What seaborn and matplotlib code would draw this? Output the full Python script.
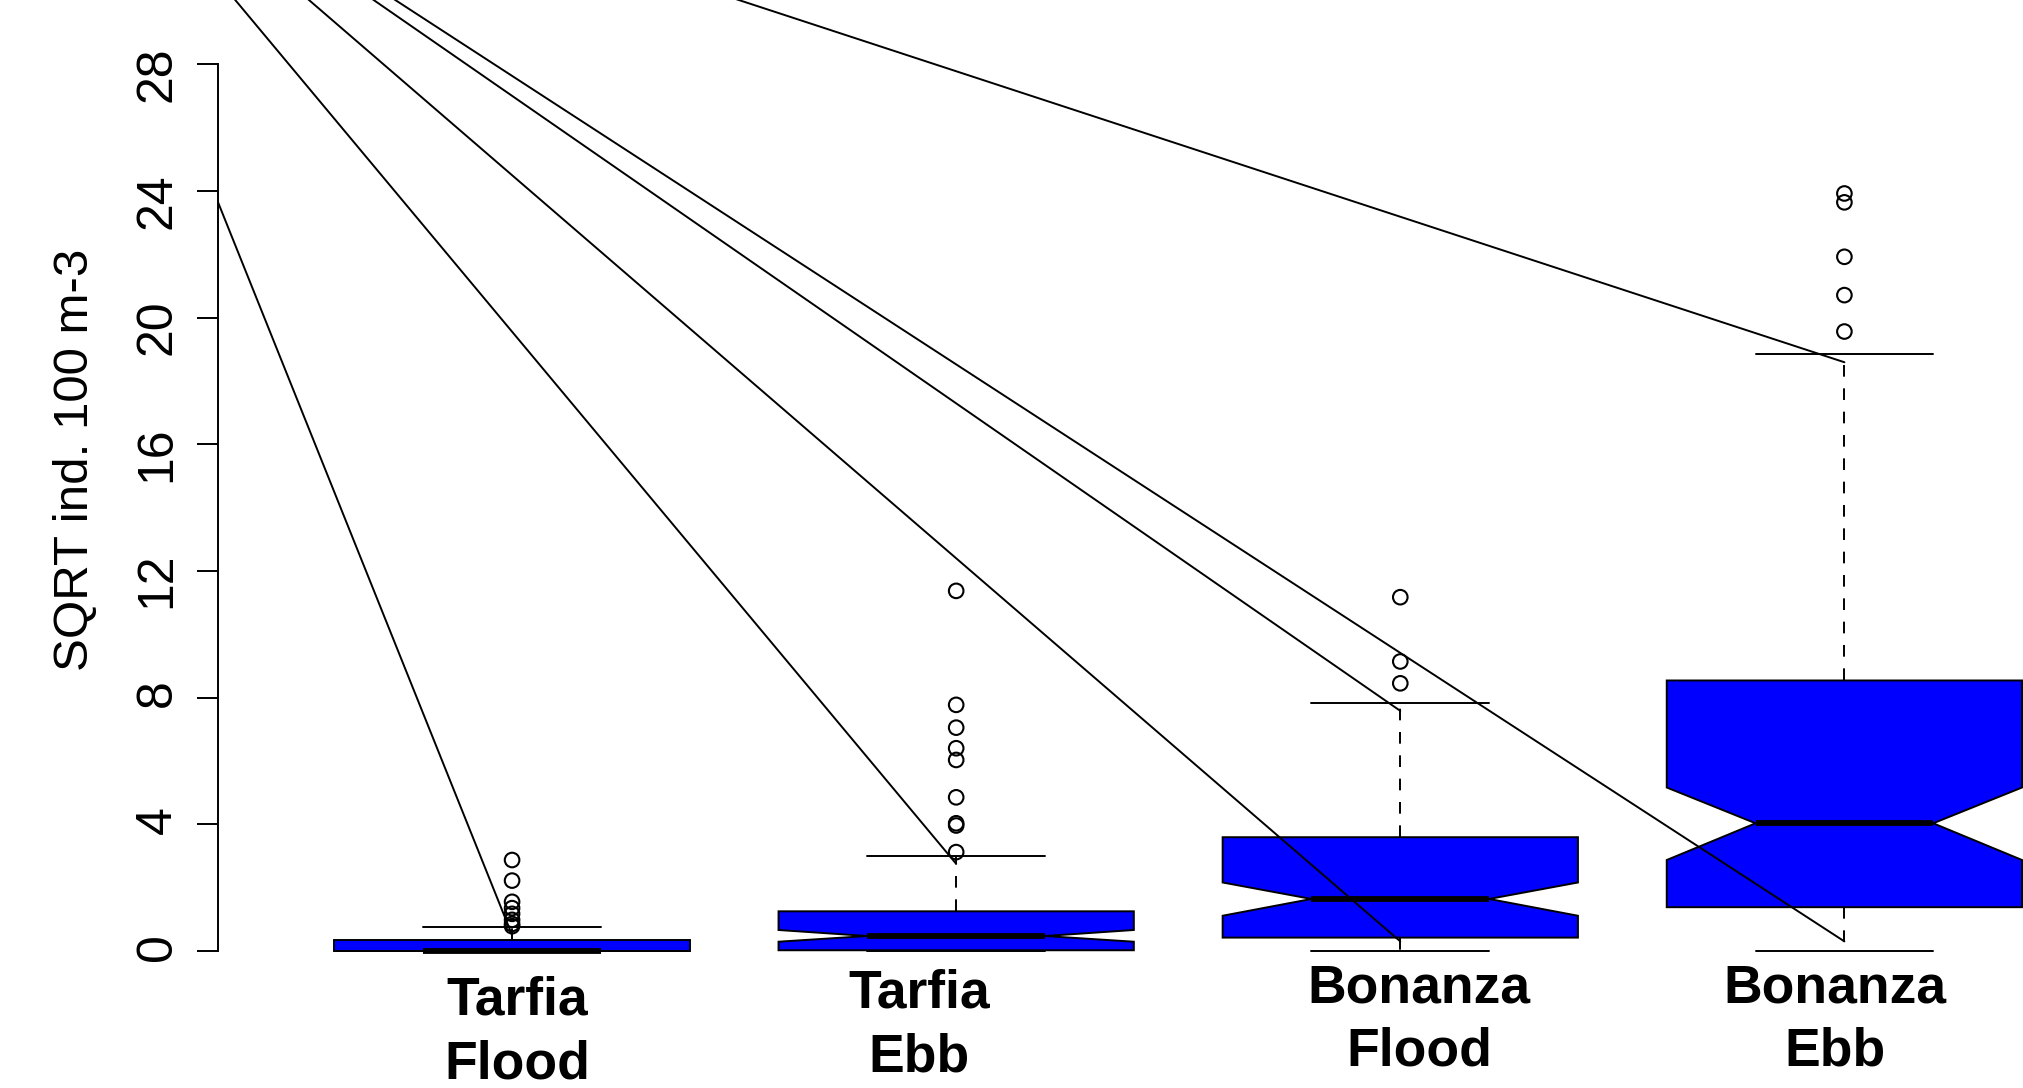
import numpy as np
import pandas as pd
import matplotlib
matplotlib.use("Agg")
import matplotlib.pyplot as plt
import seaborn as sns

# ---- valores ----
grupos_topo = ["Tarfia", "Tarfia", "Bonanza", "Bonanza"]
grupos_base = ["Flood", "Ebb", "Flood", "Ebb"]

q1 = [0.0, 0.02, 0.42, 1.38]
mediana = [0.0, 0.47, 1.64, 4.03]
q3 = [0.33, 1.25, 3.59, 8.54]
bigode_min = [0.0, 0.0, 0.0, 0.0]
bigode_max = [0.75, 3.0, 7.82, 18.85]
entalhe_min = [0.0, 0.29, 1.11, 2.87]
entalhe_max = [0.0, 0.66, 2.16, 5.16]

outliers = [
    [0.78, 0.85, 0.98, 1.17, 1.35, 1.55, 2.22, 2.87],       # Tarfia Flood
    [3.12, 3.96, 4.03, 4.85, 6.03, 6.4, 7.05, 7.77, 11.37],  # Tarfia Ebb
    [8.45, 9.14, 11.17],                                     # Bonanza Flood
    [19.56, 20.71, 21.92, 23.64, 23.92],                     # Bonanza Ebb
]

# linhas diagonais: todas saem do mesmo ponto (fora do recorte da figura)
linha_origem_x = -1.05
linha_origem_y = 37.2
linha_fim_grupo = [0, 1, 2, 2, 3, 3]
linha_fim_valor = [0.5, 2.75, 0.3, 7.58, 0.3, 18.59]

# posição dos rótulos dos grupos (x em unidades de grupo, y = linha de base)
rotulo_x = [0.012, 0.916, 2.042, 2.979]
rotulo_y = [-2.02, -1.80, -1.63, -1.63]

yticks = [0, 4, 8, 12, 16, 20, 24, 28]


def gerar_boxplot():
    sns.set_style("white")
    plt.rcParams["font.family"] = ["Liberation Sans", "DejaVu Sans"]
    plt.rcParams["text.color"] = "black"

    fig = plt.figure(figsize=(20.23, 10.88), dpi=100)
    ax = fig.add_axes([0.1078, 0.0, 0.9488, 1.0])

    # caixas com entalhe (estatísticas já resumidas)
    stats = []
    for i in range(4):
        stats.append(dict(q1=q1[i], med=mediana[i], q3=q3[i],
                          whislo=bigode_min[i], whishi=bigode_max[i],
                          cilo=entalhe_min[i], cihi=entalhe_max[i],
                          fliers=[]))
    ax.bxp(stats, positions=range(4), widths=0.8, capwidths=0.4,
           shownotches=True, patch_artist=True, showfliers=False,
           boxprops=dict(facecolor="#0000FF", edgecolor="black", linewidth=1.4),
           medianprops=dict(color="black", linewidth=4.2, solid_capstyle="butt"),
           whiskerprops=dict(color="black", linewidth=1.4, linestyle=(0, (6, 6))),
           capprops=dict(color="black", linewidth=1.4))

    # outliers
    df_out = pd.DataFrame({
        "grupo": np.repeat(np.arange(4), [len(o) for o in outliers]),
        "valor": np.concatenate(outliers),
    })
    sns.scatterplot(data=df_out, x="grupo", y="valor", ax=ax, marker="o", s=110,
                    facecolors="none", edgecolor="black", linewidth=1.5,
                    zorder=4, legend=False)

    # linhas diagonais
    n = len(linha_fim_grupo)
    df_lin = pd.DataFrame({
        "linha": np.repeat(np.arange(n), 2),
        "x": np.ravel([[linha_origem_x, g] for g in linha_fim_grupo]),
        "y": np.ravel([[linha_origem_y, v] for v in linha_fim_valor]),
    })
    sns.lineplot(data=df_lin, x="x", y="y", units="linha", estimator=None,
                 sort=False, color="black", linewidth=1.4, ax=ax, zorder=3,
                 legend=False)

    ax.set_xlim(-0.662, 3.66)
    ax.set_ylim(-4.33, 30.03)
    ax.set_xticks([])
    ax.set_xlabel("")
    for lado in ["top", "right", "bottom"]:
        ax.spines[lado].set_visible(False)
    ax.spines["left"].set_bounds(0, 28)
    ax.spines["left"].set_linewidth(1.4)
    ax.spines["left"].set_color("black")

    ax.set_yticks(yticks)
    ax.set_yticklabels([str(t) for t in yticks])
    ax.tick_params(axis="y", left=True, length=15, width=1.4, pad=12,
                   labelsize=36, labelrotation=90, color="black",
                   labelcolor="black", direction="out")
    ax.set_ylabel("SQRT ind. 100 m-3", fontsize=35.5, color="black")
    ax.yaxis.set_label_coords(-0.0625, 0.577)

    # rótulos dos grupos em duas linhas
    for i in range(4):
        ax.text(rotulo_x[i], rotulo_y[i], grupos_topo[i], ha="center",
                va="baseline", fontsize=38.5, fontweight="bold")
        ax.text(rotulo_x[i], rotulo_y[i] - 2.0, grupos_base[i], ha="center",
                va="baseline", fontsize=38.5, fontweight="bold")

    fig.savefig("out.png", dpi=100)
    plt.close(fig)


if __name__ == "__main__":
    gerar_boxplot()
